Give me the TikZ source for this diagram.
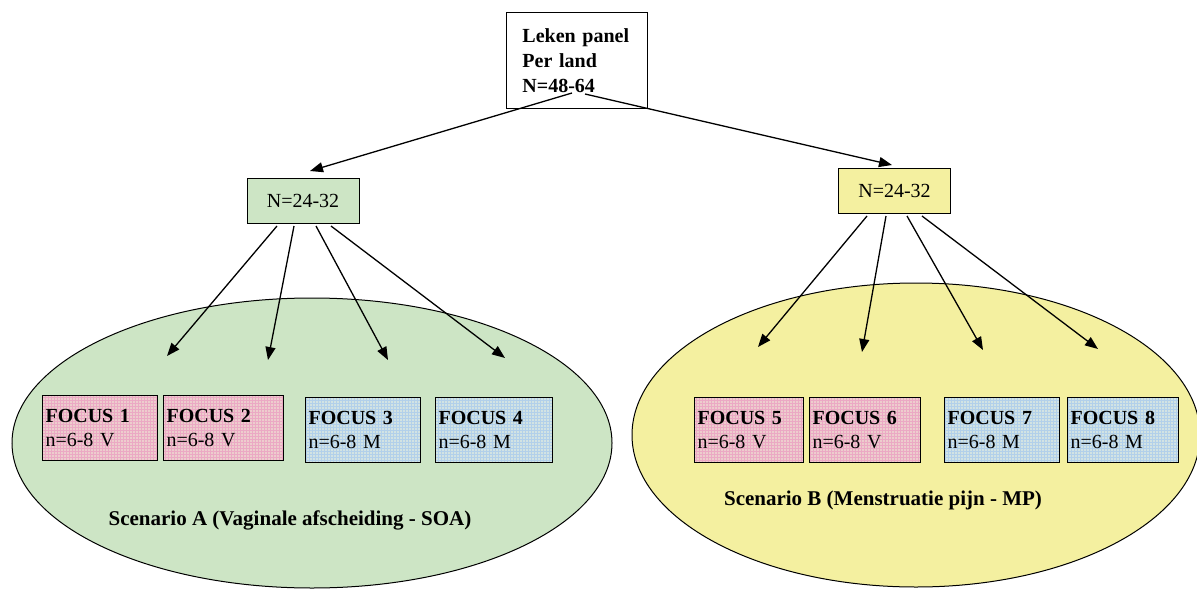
\documentclass[tikz,border=0pt]{standalone}
\usepackage{fontspec}
\setmainfont{Liberation Serif}
\usetikzlibrary{arrows.meta,patterns,shapes.geometric}
\definecolor{scengreen}{HTML}{CDE5C5}
\definecolor{scenyellow}{HTML}{F4F0A0}
\definecolor{pinkbase}{HTML}{EDCDCD}
\definecolor{pinkgrid}{HTML}{EBA9C4}
\definecolor{bluebase}{HTML}{D2E3E3}
\definecolor{bluegrid}{HTML}{B2D0EA}
\newcommand{\boxfont}{\fontsize{20}{24}\selectfont}

\begin{document}
\begin{tikzpicture}[x=1pt, y=-1pt,
    arr/.style={-{Triangle[length=13pt,width=10pt]}, line width=1.3pt},
    focus/.style={draw, line width=1.1pt, anchor=north west, align=left, inner xsep=3pt,
                  minimum height=65pt, font=\boxfont},
    pinkcell/.style={preaction={fill=pinkbase}, pattern=grid, pattern color=pinkgrid},
    bluecell/.style={preaction={fill=bluebase}, pattern=grid, pattern color=bluegrid},
    groupbox/.style={draw, line width=0.9pt, minimum width=112pt, minimum height=45pt, font=\boxfont}]
    \useasboundingbox (0,0) rectangle (1197,589);

    %scenarios
    \node[draw, ellipse, line width=1pt, fill=scengreen , minimum width=600pt, minimum height=290pt, name=scenA] at (312,443) {};
    \node[draw, ellipse, line width=1pt, fill=scenyellow, minimum width=568pt, minimum height=304pt, name=scenB] at (916,435) {};
    \node[font=\fontsize{21}{24}\selectfont\bfseries, name=labelA] at (290,520) {Scenario A (Vaginale afscheiding - SOA)};
    \node[font=\fontsize{21}{24}\selectfont\bfseries, name=labelB] at (883,500) {Scenario B (Menstruatie pijn - MP)};

    %panel and groups
    \node[draw, line width=0.9pt, fill=white, anchor=north west, align=left, inner xsep=16pt, text width=109pt,
          minimum height=96pt, font=\fontsize{20}{25}\selectfont\bfseries, name=panel] at (506,12) {Leken panel\\Per land\\N=48-64};
    \node[groupbox, fill=scengreen , name=groupA] at (303,200.5) {N=24-32};
    \node[groupbox, fill=scenyellow, name=groupB] at (894.5,191) {N=24-32};

    %focus groups
    \node[focus, pinkcell, text width=109pt, name=f1] at (42,395)   {\textbf{FOCUS 1}\\n=6-8 V};
    \node[focus, pinkcell, text width=114pt, name=f2] at (163,395)  {\textbf{FOCUS 2}\\n=6-8 V};
    \node[focus, bluecell, text width=109pt, name=f3] at (305,397)  {\textbf{FOCUS 3}\\n=6-8 M};
    \node[focus, bluecell, text width=111pt, name=f4] at (435,397)  {\textbf{FOCUS 4}\\n=6-8 M};
    \node[focus, pinkcell, text width=103pt, name=f5] at (694,397)  {\textbf{FOCUS 5}\\n=6-8 V};
    \node[focus, pinkcell, text width=105pt, name=f6] at (809,397)  {\textbf{FOCUS 6}\\n=6-8 V};
    \node[focus, bluecell, text width=109pt, name=f7] at (944,397)  {\textbf{FOCUS 7}\\n=6-8 M};
    \node[focus, bluecell, text width=105pt, name=f8] at (1067,397) {\textbf{FOCUS 8}\\n=6-8 M};

    %arrow ends
    \coordinate (panelL) at (572,93);
    \coordinate (panelR) at (585,94);
    \coordinate (intoA)  at (310,171);
    \coordinate (intoB)  at (892,165);
    \coordinate (a1) at (277,226); \coordinate (a2) at (294,226); \coordinate (a3) at (316,226); \coordinate (a4) at (331,226);
    \coordinate (b1) at (867,216); \coordinate (b2) at (886,216); \coordinate (b3) at (907,216); \coordinate (b4) at (922,216);
    \coordinate (tipA1) at (167,356); \coordinate (tipA2) at (268,360); \coordinate (tipA3) at (388,360); \coordinate (tipA4) at (505,358);
    \coordinate (tipB1) at (758,347); \coordinate (tipB2) at (862,352); \coordinate (tipB3) at (983,350); \coordinate (tipB4) at (1098,349);

    %arrows
    \draw[arr] (panelL) -- (intoA);
    \draw[arr] (panelR) -- (intoB);
    \foreach \i in {1,...,4} {
        \draw[arr] (a\i) -- (tipA\i);
        \draw[arr] (b\i) -- (tipB\i);
    }
\end{tikzpicture}
\end{document}
